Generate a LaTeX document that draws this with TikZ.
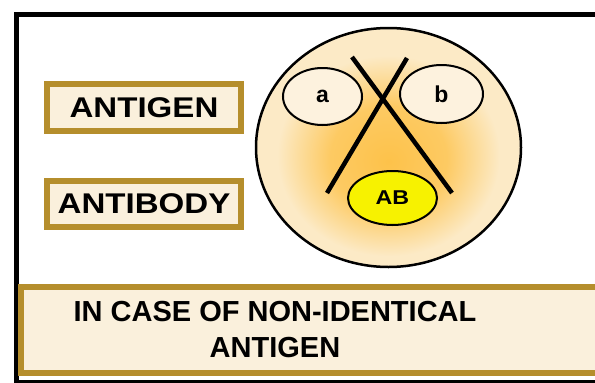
\documentclass[tikz,border=0pt]{standalone}
\usepackage{fontspec}
\setmainfont{Liberation Sans}
\newfontfamily\widefont[FakeStretch=1.16]{Liberation Sans}
\usetikzlibrary{shapes.geometric}
\definecolor{frame-gold}{HTML}{B58E2C}
\definecolor{box-cream}{HTML}{FAF0DC}
\definecolor{glow-core}{HTML}{FDC24A}
\definecolor{glow-rim}{HTML}{FCEAC6}
\definecolor{oval-cream}{HTML}{FDF2DE}
\definecolor{ab-yellow}{HTML}{F7F200}
\pgfdeclareradialshading{cell-glow}{\pgfpoint{0bp}{-3bp}}{color(0bp)=(glow-core); color(11bp)=(glow-core!80!glow-rim); color(21bp)=(glow-rim); color(50bp)=(glow-rim)}

\tikzset{
  label-box/.style={draw=frame-gold, line width=6pt, fill=box-cream,
    minimum width=194pt, minimum height=47pt, inner sep=0pt,
    font=\widefont\bfseries\fontsize{28.5}{30}\selectfont},
  small-oval/.style={ellipse, draw, line width=2pt, fill=oval-cream,
    inner sep=0pt, font=\bfseries\fontsize{23}{25}\selectfont},
  cross-bar/.style={line width=4.5pt}
}

\begin{document}
\begin{tikzpicture}[x=1pt, y=-1pt]
    \useasboundingbox (0,0) rectangle (595,383);
    % frame, open on the right
    \draw[line width=5pt] (600,14) -| (16.5,383);
    \draw[line width=3pt] (16.5,381.5) -- (600,381.5);
    \node[label-box] (antigen-label) at (144,107.5) {ANTIGEN};
    \node[label-box, minimum height=46pt] (antibody-label) at (144,204) {ANTIBODY};
    \node[draw=frame-gold, line width=6pt, fill=box-cream, minimum width=580pt,
          minimum height=86pt] (caption-box) at (310.5,330) {};
    \node[align=center, font=\bfseries\fontsize{29}{36}\selectfont] (caption)
          at (275,330) {IN CASE OF NON-IDENTICAL\\ANTIGEN};
    % the cell
    \node[ellipse, draw, line width=2.5pt, shading=cell-glow, minimum width=265pt,
          minimum height=239pt] (cell) at (388.5,147.5) {};
    \node[small-oval, minimum width=79pt, minimum height=57pt] (antigen-a) at (322.5,96.5) {a};
    \node[small-oval, minimum width=83pt, minimum height=58pt] (antigen-b) at (441.5,94) {b};
    \node[small-oval, fill=ab-yellow, minimum width=89pt, minimum height=54pt,
          font=\widefont\bfseries\fontsize{20}{22}\selectfont] (antibody-ab) at (392.5,198) {AB};
    % the cross
    \coordinate (bar-nw) at (352,57);
    \coordinate (bar-se) at (452,193);
    \coordinate (bar-ne) at (407,58);
    \coordinate (bar-sw) at (327,193);
    \draw[cross-bar] (bar-nw) -- (bar-se);
    \draw[cross-bar] (bar-ne) -- (bar-sw);
\end{tikzpicture}
\end{document}
